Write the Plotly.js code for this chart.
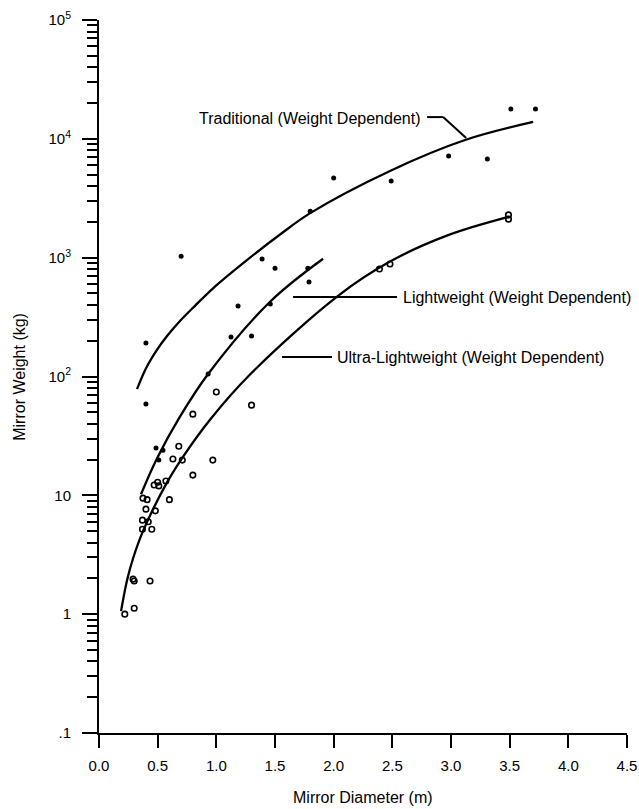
<!DOCTYPE html>
<html>
<head>
<meta charset="utf-8">
<script src="https://cdn.plot.ly/plotly-3.0.1.min.js"></script>
<style>
html,body{margin:0;padding:0;background:#fff;}
#chart{width:639px;height:809px;}
</style>
</head>
<body>
<div id="chart"></div>
<script>
// ---- data ----
// filled dots
const filledDiameter = [3.51, 3.72, 2.98, 3.31, 2.49, 2.00, 1.80, 1.78, 1.79, 0.70, 1.39, 1.50, 1.185, 1.46, 1.125, 1.30, 0.40, 0.93, 0.40, 0.486, 0.545, 0.51];
const filledWeight   = [17800, 17800, 7160, 6760, 4420, 4680, 2460, 813, 624, 1030, 973, 813, 392, 408, 215, 219, 191, 105, 58.6, 25, 24, 19.8];
// open circles
const openDiameter = [3.49, 3.49, 2.39, 2.48, 1.00, 1.30, 0.80, 0.68, 0.63, 0.71, 0.97, 0.80, 0.47, 0.50, 0.51, 0.57, 0.375, 0.41, 0.60, 0.40, 0.48, 0.37, 0.42, 0.37, 0.45, 0.29, 0.30, 0.435, 0.30, 0.22];
const openWeight   = [2290, 2110, 802, 884, 74, 57.4, 48.2, 25.9, 20.2, 19.8, 19.8, 14.8, 12.2, 12.9, 12.0, 13.2, 9.47, 9.2, 9.2, 7.65, 7.4, 6.18, 6.0, 5.19, 5.19, 1.97, 1.9, 1.9, 1.12, 1.0];
// fitted curves
const tradCurveD = [0.324, 0.40, 0.494, 0.58, 0.69, 0.82, 0.97, 1.287, 1.543, 1.80, 2.48, 3.12, 3.70];
const tradCurveW = [78.3, 117, 167.5, 219, 293, 395, 550, 1000, 1567, 2371, 5370, 9772, 13870];
const lightCurveD = [0.358, 0.494, 0.69, 0.93, 1.458, 1.91];
const lightCurveW = [10.2, 20.4, 45.9, 105, 426, 980];
const ultraCurveD = [0.188, 0.239, 0.29, 0.375, 0.58, 0.71, 0.946, 1.287, 2.04, 2.48, 2.97, 3.49];
const ultraCurveW = [1.06, 1.93, 2.94, 5.0, 12.85, 20.7, 43.3, 104, 480, 927, 1538, 2200];
// axis ticks
const xTickVals = [0, 0.5, 1.0, 1.5, 2.0, 2.5, 3.0, 3.5, 4.0, 4.5];
const xTickText = ['0.0', '0.5', '1.0', '1.5', '2.0', '2.5', '3.0', '3.5', '4.0', '4.5'];
const yTickVals = [0.1, 1, 10, 100, 1000, 10000, 100000];
const yTickText = ['.1', '1', '10', '10<sup>2</sup>', '10<sup>3</sup>', '10<sup>4</sup>', '10<sup>5</sup>'];
const labels = ['Traditional (Weight Dependent)', 'Lightweight (Weight Dependent)', 'Ultra-Lightweight (Weight Dependent)'];

// minor log ticks 2..9 in each decade
const yMinor = [];
for (let e = -1; e < 5; e++) for (let m = 2; m <= 9; m++) yMinor.push(m * Math.pow(10, e));

const FONT = 'Liberation Sans, Arial, Helvetica, sans-serif';
const curveLine = {color: '#000', width: 2.3, shape: 'spline', smoothing: 1};

const traces = [
  {x: tradCurveD, y: tradCurveW, mode: 'lines', line: curveLine, hoverinfo: 'skip', name: 'Traditional'},
  {x: lightCurveD, y: lightCurveW, mode: 'lines', line: curveLine, hoverinfo: 'skip', name: 'Lightweight'},
  {x: ultraCurveD, y: ultraCurveW, mode: 'lines', line: curveLine, hoverinfo: 'skip', name: 'Ultra-Lightweight'},
  {x: filledDiameter, y: filledWeight, mode: 'markers', name: 'filled',
   marker: {symbol: 'circle', size: 5, color: '#000'}},
  {x: openDiameter, y: openWeight, mode: 'markers', name: 'open',
   marker: {symbol: 'circle-open', size: 5.5, color: '#000', line: {width: 1.6, color: '#000'}}}
];

const leader = {color: '#000', width: 2};
const layout = {
  width: 639, height: 809,
  margin: {l: 99, r: 12, t: 20, b: 76},
  paper_bgcolor: '#fff', plot_bgcolor: '#fff',
  showlegend: false,
  font: {family: FONT, color: '#000', size: 15},
  xaxis: {
    range: [0, 4.5], showgrid: false, zeroline: false,
    showline: true, linecolor: '#000', linewidth: 2,
    tickmode: 'array', tickvals: xTickVals, ticktext: xTickText,
    ticks: 'outside', ticklen: 13, tickwidth: 2, tickcolor: '#000',
    ticklabelstandoff: 5,
    tickfont: {family: FONT, size: 15, color: '#000'}
  },
  yaxis: {
    type: 'log', range: [-1, 5], showgrid: false, zeroline: false,
    showline: true, linecolor: '#000', linewidth: 2,
    tickmode: 'array', tickvals: yTickVals, ticktext: yTickText,
    ticks: 'outside', ticklen: 15, tickwidth: 2, tickcolor: '#000',
    ticklabelstandoff: 8,
    tickfont: {family: FONT, size: 15, color: '#000'},
    minor: {tickmode: 'array', tickvals: yMinor, ticks: 'outside', ticklen: 10, tickwidth: 2, tickcolor: '#000', showgrid: false}
  },
  annotations: [
    {xref: 'paper', yref: 'paper', x: 0.5, y: -0.091, xanchor: 'center', yanchor: 'middle',
     text: 'Mirror Diameter (m)', showarrow: false, font: {family: FONT, size: 16, color: '#000'}},
    {xref: 'paper', yref: 'paper', x: -0.151, y: 0.5, xanchor: 'center', yanchor: 'middle', textangle: -90,
     text: 'Mirror Weight (kg)', showarrow: false, font: {family: FONT, size: 16, color: '#000'}},
    {xref: 'x', yref: 'y', x: 2.75, y: Math.log10(14970), xanchor: 'right', yanchor: 'middle',
     text: labels[0], showarrow: false, font: {family: FONT, size: 16, color: '#000'}},
    {xref: 'x', yref: 'y', x: 2.575, y: Math.log10(466), xanchor: 'left', yanchor: 'middle',
     text: labels[1], showarrow: false, font: {family: FONT, size: 16, color: '#000'}},
    {xref: 'x', yref: 'y', x: 2.015, y: Math.log10(145.6), xanchor: 'left', yanchor: 'middle',
     text: labels[2], showarrow: false, font: {family: FONT, size: 16, color: '#000'}}
  ],
  // leader lines (shapes on a log axis take raw data values)
  shapes: [
    {type: 'line', xref: 'x', yref: 'y', x0: 2.796, y0: 15240, x1: 2.933, y1: 15240, line: leader},
    {type: 'line', xref: 'x', yref: 'y', x0: 2.933, y0: 15240, x1: 3.129, y1: 10170, line: leader},
    {type: 'line', xref: 'x', yref: 'y', x0: 1.654, y0: 466, x1: 2.54, y1: 466, line: leader},
    {type: 'line', xref: 'x', yref: 'y', x0: 1.56, y0: 145.6, x1: 1.986, y1: 145.6, line: leader}
  ]
};

Plotly.newPlot('chart', traces, layout, {displayModeBar: false, staticPlot: true});
</script>
</body>
</html>
